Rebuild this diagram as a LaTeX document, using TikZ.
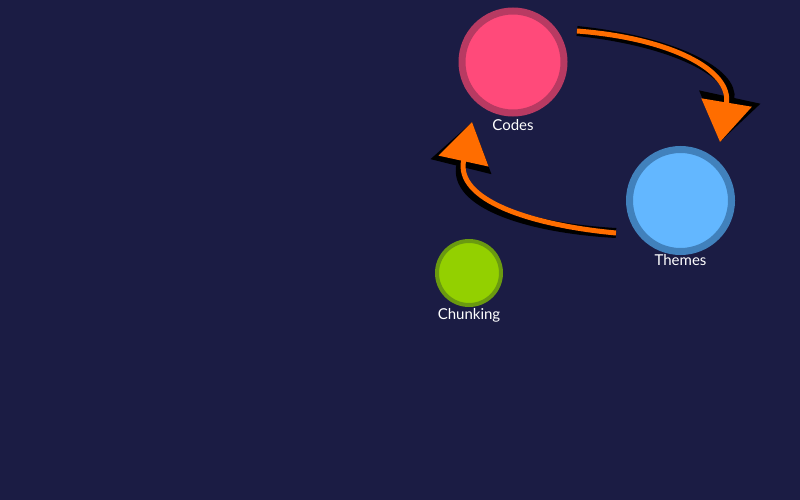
\documentclass[tikz,border=0pt]{standalone}
\usepackage{fontspec}
\setmainfont{Lato}
\usetikzlibrary{arrows.meta}
\definecolor{bg}{HTML}{1B1C44}
\definecolor{codefill}{HTML}{FF4A7A}
\definecolor{codeedge}{HTML}{B83A62}
\definecolor{themefill}{HTML}{63B7FF}
\definecolor{themeedge}{HTML}{4181BC}
\definecolor{chunkfill}{HTML}{93D000}
\definecolor{chunkedge}{HTML}{6A9A10}
\definecolor{arrowc}{HTML}{FF6D00}
\tikzset{
  bubble/.style={circle, inner sep=0pt},
  lbl/.style={text=white, font=\fontsize{15}{17}\selectfont, inner sep=0pt},
  flow/.style={draw=arrowc, line width=5pt, -{Triangle[length=40pt,width=50pt]}},
  flowshadow/.style={draw=black, line width=10pt, -{Triangle[length=46pt,width=60pt]}},
}
\begin{document}
\begin{tikzpicture}[x=1pt,y=-1pt]
\fill[bg] (0,0) rectangle (800,500);
\useasboundingbox (0,0) rectangle (800,500);
% nodes
\node[bubble, minimum size=102pt, fill=codefill, draw=codeedge, line width=7pt] (codes) at (513,62) {};
\node[bubble, minimum size=102pt, fill=themefill, draw=themeedge, line width=7pt] (themes) at (680.5,200.5) {};
\node[bubble, minimum size=64pt, fill=chunkfill, draw=chunkedge, line width=4pt] (chunk) at (469,273) {};
\node[lbl] (codeslbl) at (513,125) {Codes};
\node[lbl] (themeslbl) at (680.5,260) {Themes};
\node[lbl] (chunklbl) at (469,315) {Chunking};
% connector anchors
\coordinate (a1s) at (577,31);
\coordinate (a1e) at (720,142);
\coordinate (a2s) at (616,233);
\coordinate (a2e) at (472,122);
% shadows
\begin{scope}[shift={(3,3)}]
\draw[flowshadow] (a1s) .. controls (670,38) and (732,70) .. (a1e);
\end{scope}
\begin{scope}[shift={(-3,3)}]
\draw[flowshadow] (a2s) .. controls (530,225) and (455,200) .. (a2e);
\end{scope}
% arrows
\draw[flow] (a1s) .. controls (670,38) and (732,70) .. (a1e);
\draw[flow] (a2s) .. controls (530,225) and (455,200) .. (a2e);
\end{tikzpicture}
\end{document}
